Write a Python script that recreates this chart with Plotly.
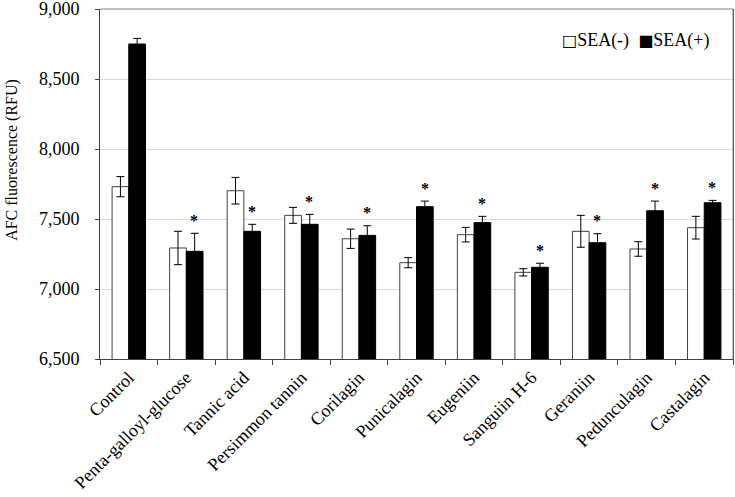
import plotly.graph_objects as go

categories = ["Control", "Penta-galloyl-glucose", "Tannic acid", "Persimmon tannin",
              "Corilagin", "Punicalagin", "Eugeniin", "Sanguiin H-6", "Geraniin",
              "Pedunculagin", "Castalagin"]
sea_minus = [7731, 7293, 7702, 7526, 7359, 7188, 7388, 7119, 7412, 7286, 7438]
sea_minus_err = [72, 119, 95, 57, 69, 36, 52, 26, 114, 52, 81]
sea_plus = [8750, 7269, 7412, 7462, 7383, 7588, 7474, 7155, 7331, 7559, 7616]
sea_plus_err = [40, 129, 50, 71, 69, 40, 45, 29, 64, 69, 17]
significant = [False, True, True, True, True, True, True, True, True, True, True]
y_ticks = [6500, 7000, 7500, 8000, 8500, 9000]
series_names = ["SEA(-)", "SEA(+)"]

FONT = "Liberation Serif, Times New Roman, serif"

fig = go.Figure()
fig.add_trace(go.Bar(
    x=categories, y=sea_minus, name=series_names[0], showlegend=False,
    marker=dict(color="white", line=dict(color="#404040", width=1)),
    error_y=dict(type="data", array=sea_minus_err, color="black", thickness=1, width=4),
))
fig.add_trace(go.Bar(
    x=categories, y=sea_plus, name=series_names[1], showlegend=False,
    marker=dict(color="black", line=dict(color="black", width=1)),
    error_y=dict(type="data", array=sea_plus_err, color="black", thickness=1, width=4),
))

for c, v, e, s in zip(categories, sea_plus, sea_plus_err, significant):
    if s:
        fig.add_annotation(x=c, y=v + e, xref="x", yref="y", text="<b>*</b>", showarrow=False,
                           xshift=8, yshift=13, font=dict(family=FONT, size=16, color="black"))

# legend (Excel style: symbol directly followed by text)
fig.add_annotation(
    xref="paper", yref="paper", x=0.966, y=0.911, xanchor="right", yanchor="middle",
    showarrow=False, align="right",
    text=("<span style='font-family:DejaVu Sans;font-size:16px'>□</span>" + series_names[0] +
          "&nbsp;&nbsp;<span style='font-family:DejaVu Sans;font-size:16px'>■</span>" + series_names[1]),
    font=dict(family=FONT, size=18, color="black"),
)

# y-axis title
fig.add_annotation(
    xref="paper", yref="paper", x=-0.139, y=0.569, xanchor="center", yanchor="middle",
    showarrow=False, textangle=-90, text="AFC fluorescence (RFU)",
    font=dict(family=FONT, size=16, color="black"),
)

fig.update_layout(
    width=735, height=497,
    margin=dict(l=100, r=2, t=9, b=138, autoexpand=False),
    paper_bgcolor="white", plot_bgcolor="white",
    barmode="group", bargap=0.42, bargroupgap=0,
    font=dict(family=FONT, size=18, color="black"),
    showlegend=False,
)
fig.update_xaxes(
    type="category", tickangle=-45, ticks="outside", tickson="boundaries",
    ticklen=5, tickcolor="#404040", showline=True, linecolor="#404040", linewidth=1,
    mirror=False, showgrid=False, tickfont=dict(family=FONT, size=18), automargin=False,
    ticklabeloverflow="allow",
)
fig.update_yaxes(
    range=[6500, 9000], tickvals=y_ticks, tickformat=",",
    ticks="outside", ticklen=4, tickcolor="#404040", ticklabelstandoff=12,
    showline=True, linecolor="#404040", linewidth=1, mirror=True,
    showgrid=True, gridcolor="#d9d9d9", gridwidth=1,
    tickfont=dict(family=FONT, size=18), automargin=False, ticklabeloverflow="allow",
)
fig.add_shape(type="line", xref="paper", yref="paper", x0=1, x1=1, y0=0, y1=1,
              line=dict(color="#808080", width=1))
fig.add_shape(type="line", xref="paper", yref="paper", x0=0, x1=1, y0=1, y1=1,
              line=dict(color="#808080", width=1))

fig.write_html("out.html", config={"displayModeBar": False},
               post_script="document.body.style.margin='0px';")
